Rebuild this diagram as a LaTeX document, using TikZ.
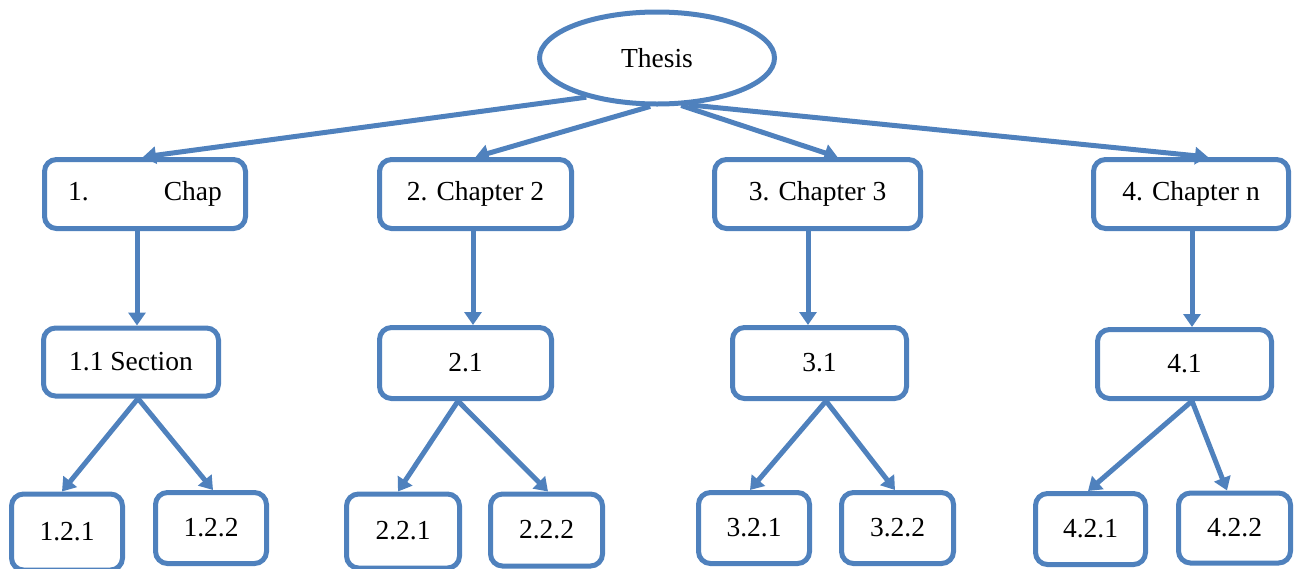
\documentclass[tikz,border=0pt]{standalone}
\usepackage{fontspec}
\setmainfont{Liberation Serif}
\usetikzlibrary{shapes.geometric,arrows.meta}
\definecolor{ofblue}{RGB}{79,129,189}
\tikzset{
  box/.style={draw=ofblue, line width=5pt, rounded corners=12pt, fill=white, inner sep=0pt,
    font=\fontsize{27.5}{33}\selectfont, text=black},
  arr/.style={draw=ofblue, line width=5pt, -{Triangle[length=13pt,width=17pt]}}
}
\begin{document}
\begin{tikzpicture}[x=1pt,y=-1pt]
\useasboundingbox (0,0) rectangle (1300,568);
\node[draw=ofblue, line width=5pt, ellipse, minimum width=235pt, minimum height=92pt, inner sep=0pt,
  font=\fontsize{27.5}{33}\selectfont] (thesis) at (657,58) {Thesis};

\node[box, minimum width=201pt, minimum height=69pt] (c1) at (145,194) {1.\hspace{75pt}Chap};
\node[box, minimum width=192pt, minimum height=69pt] (c2) at (475.5,194) {2. Chapter 2};
\node[box, minimum width=206pt, minimum height=69pt] (c3) at (817.5,194) {3. Chapter 3};
\node[box, minimum width=195pt, minimum height=69pt] (c4) at (1191,194) {4. Chapter n};

\node[box, minimum width=175pt, minimum height=68pt] (s1) at (131,362) {1.1 Section};
\node[box, minimum width=172pt, minimum height=71pt] (s2) at (465.5,363) {2.1};
\node[box, minimum width=174pt, minimum height=71pt] (s3) at (819.5,363) {3.1};
\node[box, minimum width=174pt, minimum height=69pt] (s4) at (1184.5,364) {4.1};

\node[box, minimum width=111pt, minimum height=76pt] (b11) at (67,532) {1.2.1};
\node[box, minimum width=111pt, minimum height=71pt] (b12) at (211,528) {1.2.2};
\node[box, minimum width=113pt, minimum height=74pt] (b21) at (403,531) {2.2.1};
\node[box, minimum width=112pt, minimum height=72pt] (b22) at (546.5,530) {2.2.2};
\node[box, minimum width=111pt, minimum height=71pt] (b31) at (754,528) {3.2.1};
\node[box, minimum width=112pt, minimum height=71pt] (b32) at (897.5,528) {3.2.2};
\node[box, minimum width=110pt, minimum height=71pt] (b41) at (1090.5,529) {4.2.1};
\node[box, minimum width=112pt, minimum height=70pt] (b42) at (1234.5,528) {4.2.2};

\draw[arr] (thesis.209) -- ([xshift=-2pt]c1.north);
\draw[arr] (thesis.262) -- (c2.north);
\draw[arr] (thesis.297) -- ([xshift=20pt]c3.north);
\draw[arr] (thesis.304) -- ([xshift=17pt]c4.north);

\draw[arr] ([xshift=-8pt]c1.south) -- ([xshift=6pt]s1.north);
\draw[arr] ([xshift=-2.5pt]c2.south) -- ([xshift=7.5pt]s2.north);
\draw[arr] ([xshift=-9.5pt]c3.south) -- ([xshift=-11.5pt]s3.north);
\draw[arr] ([xshift=1pt]c4.south) -- ([xshift=7.5pt]s4.north);

\draw[arr] ([xshift=7pt]s1.south) -- ([xshift=-5pt]b11.north);
\draw[arr] ([xshift=7pt]s1.south) -- ([xshift=2pt]b12.north);
\draw[arr] ([xshift=-7.5pt]s2.south) -- ([xshift=-5pt]b21.north);
\draw[arr] ([xshift=-7.5pt]s2.south) -- ([xshift=1.5pt]b22.north);
\draw[arr] ([xshift=6.5pt]s3.south) -- ([xshift=-4pt]b31.north);
\draw[arr] ([xshift=6.5pt]s3.south) -- ([xshift=-2.5pt]b32.north);
\draw[arr] ([xshift=7.5pt]s4.south) -- ([xshift=-2.5pt]b41.north);
\draw[arr] ([xshift=7.5pt]s4.south) -- ([xshift=-7.5pt]b42.north);
\end{tikzpicture}
\end{document}
